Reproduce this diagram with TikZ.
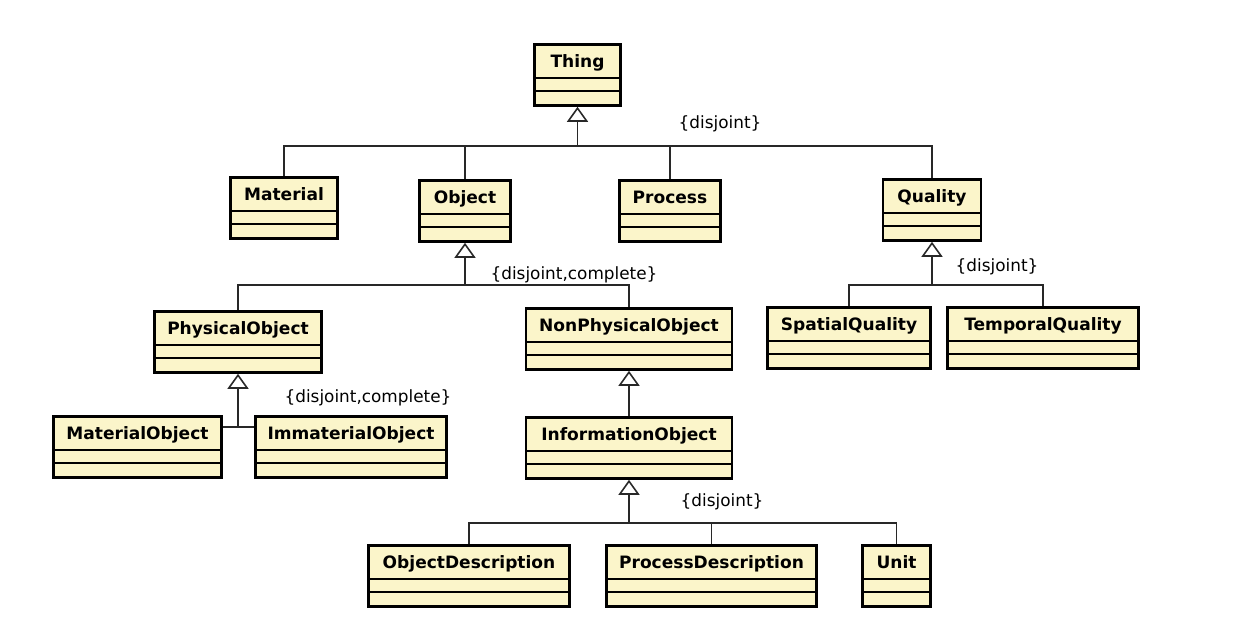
\documentclass[tikz,border=0pt]{standalone}
\usepackage{fontspec}
\setmainfont{DejaVu Sans}
\usetikzlibrary{arrows.meta}
\definecolor{classfill}{RGB}{251,245,202}
\definecolor{edgegray}{RGB}{40,40,40}

\tikzset{
  umlclass/.style={draw=black, line width=1.6pt, fill=classfill, anchor=north,
    minimum width={(#1-3)*0.02cm}, minimum height=1.22cm, inner ysep=0pt,
    text height=0.47cm, text depth=0.75cm,
    font=\fontsize{9.7}{11}\selectfont\bfseries,
    path picture={
      \draw[line width=0.8pt, black]
        ([yshift=-0.67cm]path picture bounding box.north west) -- ([yshift=-0.67cm]path picture bounding box.north east)
        ([yshift=-0.93cm]path picture bounding box.north west) -- ([yshift=-0.93cm]path picture bounding box.north east);
    }},
  genline/.style={line width=0.9pt, draw=edgegray},
  genarrow/.style={genline, -{Triangle[open, length=0.3cm, width=0.42cm]}},
  constraint/.style={font=\fontsize{9.6}{11}\selectfont, inner sep=0pt}
}

\begin{document}
\begin{tikzpicture}[x=0.02cm, y=-0.02cm]
\path[fill=white, use as bounding box] (0,0) rectangle (1240,640);

% classes
\node[umlclass=89]  (thing)    at (577.5,43) {Thing};
\node[umlclass=110] (material) at (284,176)  {Material};
\node[umlclass=94]  (object)   at (465,179)  {Object};
\node[umlclass=104] (process)  at (670,179)  {Process};
\node[umlclass=101] (quality)  at (932,178)  {Quality};
\node[umlclass=170] (physobj)  at (238,310)  {PhysicalObject};
\node[umlclass=209] (nonphys)  at (629,307)  {NonPhysicalObject};
\node[umlclass=166] (spatial)  at (849,306)  {SpatialQuality};
\node[umlclass=194] (temporal) at (1043,306) {TemporalQuality};
\node[umlclass=171] (matobj)   at (137.5,415) {MaterialObject};
\node[umlclass=194] (immobj)   at (351,415)  {ImmaterialObject};
\node[umlclass=209] (infoobj)  at (629,416)  {InformationObject};
\node[umlclass=204] (objdesc)  at (469,544)  {ObjectDescription};
\node[umlclass=213] (procdesc) at (711.5,544) {ProcessDescription};
\node[umlclass=71]  (unit)     at (896.5,544) {Unit};

% joints of the generalization sets
\coordinate (thingbus) at (577.5,146);
\coordinate (objbus)   at (465,285);
\coordinate (qualbus)  at (932,285);
\coordinate (physbus)  at (238,427);
\coordinate (infobus)  at (629,523);

% generalizations
\draw[genline] (material.north) |- (thingbus) -| (quality.north)
               (object.north) -- (object.north |- thingbus)
               (process.north) -- (process.north |- thingbus);
\draw[genarrow] (thingbus) -- (thing.south);

\draw[genline] (physobj.north) |- (objbus) -| (nonphys.north);
\draw[genarrow] (objbus) -- (object.south);

\draw[genline] (spatial.north) |- (qualbus) -| (temporal.north);
\draw[genarrow] (qualbus) -- (quality.south);

\draw[genline] (matobj.east |- physbus) -- (immobj.west |- physbus);
\draw[genarrow] (physbus) -- (physobj.south);

\draw[genarrow] (infoobj.north) -- (nonphys.south);

\draw[genline] (objdesc.north) |- (infobus) -| (unit.north)
               (procdesc.north) -- (procdesc.north |- infobus);
\draw[genarrow] (infobus) -- (infoobj.south);

% constraints
\node[constraint] (c1) at (720,124) {\{disjoint\}};
\node[constraint] (c2) at (574,275) {\{disjoint,complete\}};
\node[constraint] (c3) at (997,267) {\{disjoint\}};
\node[constraint] (c4) at (368,398) {\{disjoint,complete\}};
\node[constraint] (c5) at (722,502) {\{disjoint\}};
\end{tikzpicture}
\end{document}
